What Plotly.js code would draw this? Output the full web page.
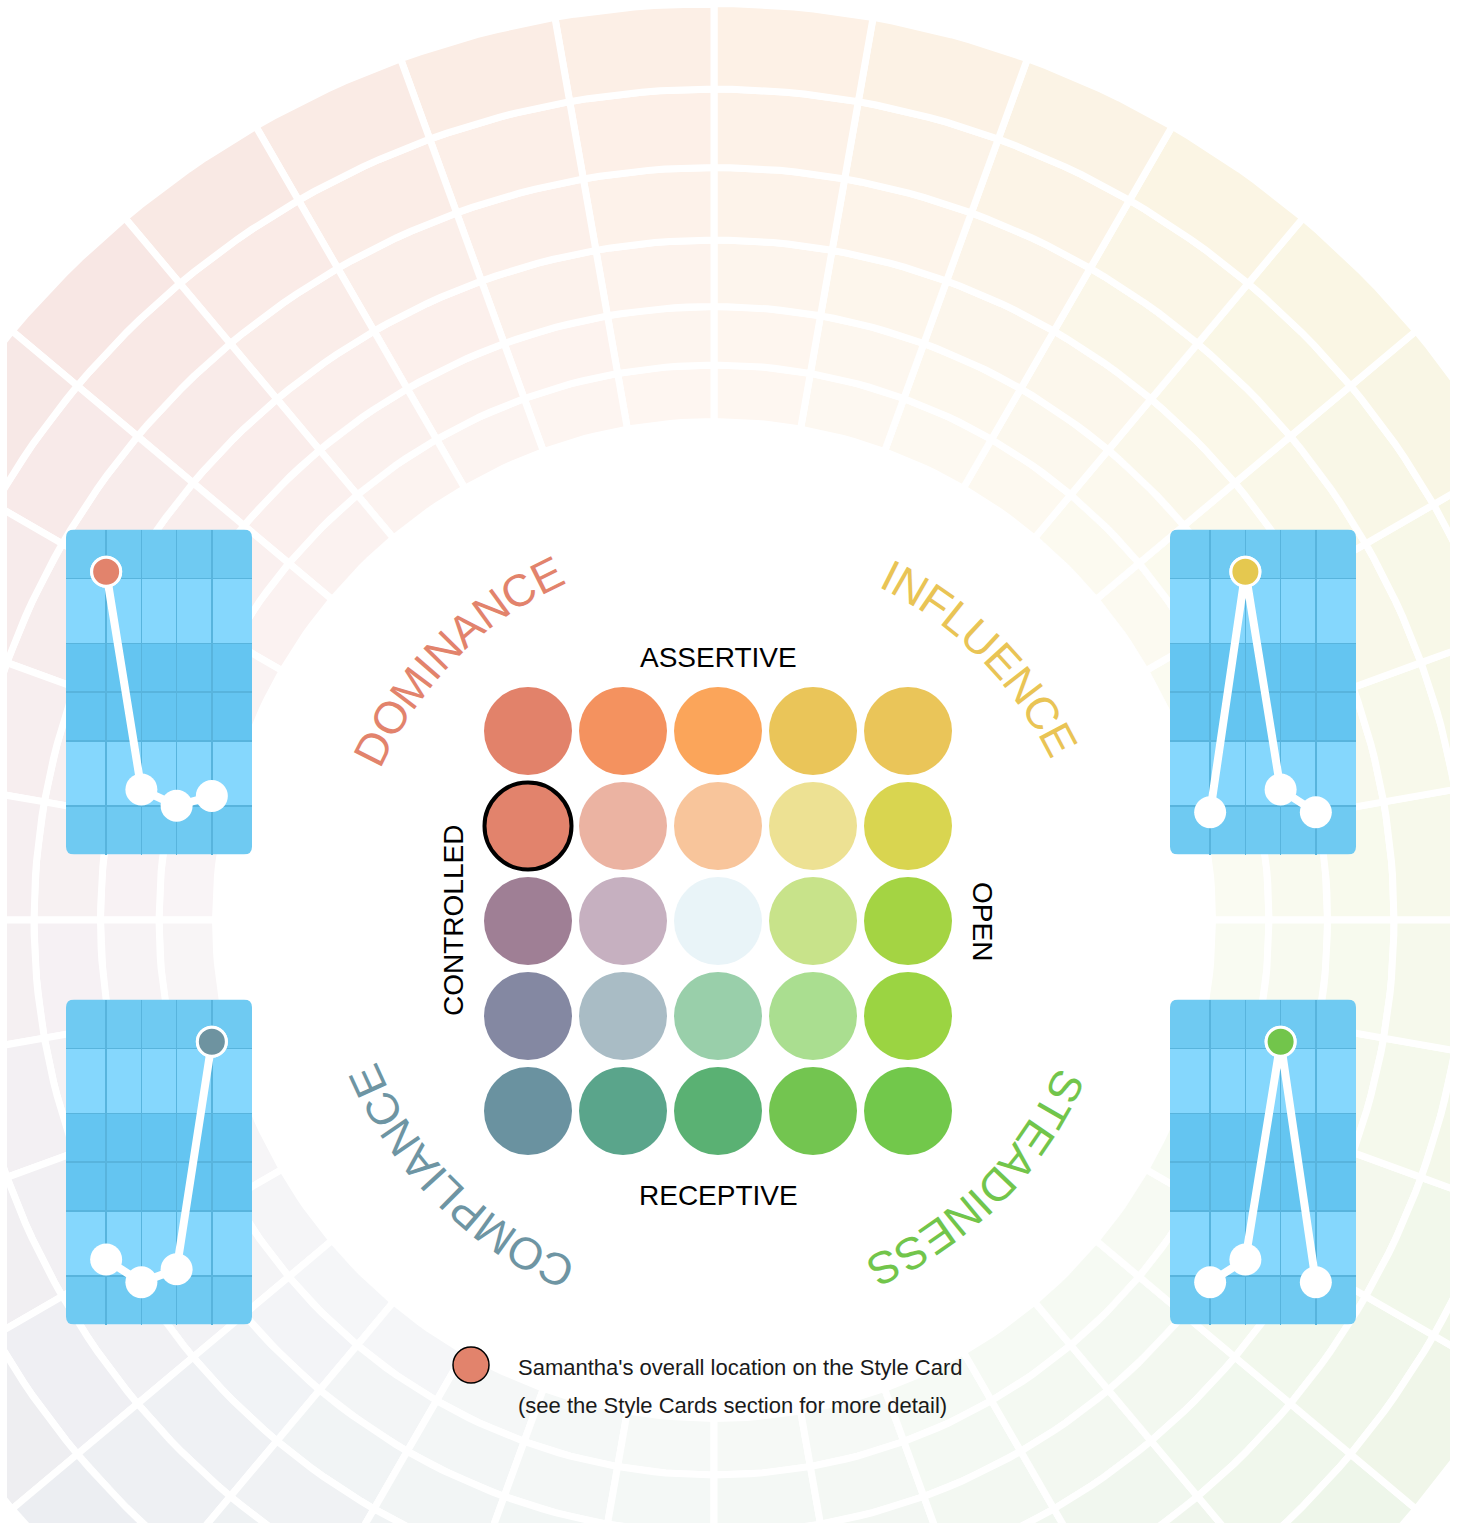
<!DOCTYPE html>
<html><head><meta charset="utf-8">
<script src="https://cdn.plot.ly/plotly-3.0.1.min.js"></script>
<style>html,body{margin:0;padding:0;background:#fff}#chart{width:1462px;height:1528px}</style>
</head><body><div id="chart"></div>
<script>
// ================= DATA =================
const gridColumns = [1, 2, 3, 4, 5];            // Controlled -> Open
const gridRows = [1, 2, 3, 4, 5];               // Assertive -> Receptive
const gridColors = [
  ['#e2826a', '#f4925f', '#fba55a', '#eac559', '#eac559'],
  ['#e2836c', '#ebb3a2', '#f8c59b', '#ede193', '#d9d550'],
  ['#9f7f95', '#c6b0c0', '#e9f4f8', '#c8e38a', '#a4d443'],
  ['#8488a2', '#a9bcc5', '#99cfaa', '#aade90', '#9bd442'],
  ['#6a92a0', '#5aa58b', '#5ab173', '#73c550', '#72c84b']
];
const selectedRow = 2;
const selectedCol = 1;

const styleFactors = ['D', 'I', 'S', 'C'];
const cardDominance = [87, 20, 15, 18];
const cardInfluence = [13, 87, 20, 13];
const cardSteadiness = [13, 20, 87, 13];
const cardCompliance = [20, 13, 17, 87];

const quadrantLabels = ['DOMINANCE', 'INFLUENCE', 'STEADINESS', 'COMPLIANCE'];
const axisLabels = ['ASSERTIVE', 'RECEPTIVE', 'CONTROLLED', 'OPEN'];
const legendLines = ["Samantha's overall location on the Style Card",
                     "(see the Style Cards section for more detail)"];
const cardBandEdges = [0, 15, 35, 65, 85, 100];

// ================= STYLE / LAYOUT CONSTANTS =================
const FONT = 'Liberation Sans, Arial, Helvetica, sans-serif';
const quadrantColors = ['#e2836c', '#e9c455', '#72c54b', '#6e95a3'];
const quadrantAngles = [135, 45, -45, 225];
const factorColors = ['#e2836c', '#e5c84f', '#72c54b', '#6e93a0'];
const W = 1462, H = 1528;
const M = {l: 7, r: 12, t: 7, b: 5};
const PW = W - M.l - M.r, PH = H - M.t - M.b;
const wheel = {cx: 714, cy: 920, radii: [498.5, 555, 613.5, 680, 752.5, 831, 916.5], sectors: 36};
const wheelTints = [ // outer-ring tints at math angles 0,45,...,315
  [245, 248, 231], [250, 246, 228], [253, 240, 230], [248, 231, 228],
  [243, 236, 239], [236, 238, 242], [238, 244, 240], [238, 246, 234]
];
const bandColors = ['#6fcaf2', '#85d7fd', '#64c5f1', '#85d7fd', '#6fcaf2'];

function dom(px0, px1) { return [(px0 - M.l) / PW, (px1 - M.l) / PW]; }
function domY(py0, py1) { return [(H - M.b - py1) / PH, (H - M.b - py0) / PH]; }

const traces = [];
const shapes = [];
const annotations = [];

// ---------- background wheel ----------
function tintAt(angDeg, ringIdx) {
  let a = ((angDeg % 360) + 360) % 360;
  const i0 = Math.floor(a / 45) % 8, i1 = (i0 + 1) % 8, t = (a - i0 * 45) / 45;
  const c = [0, 1, 2].map(k => wheelTints[i0][k] * (1 - t) + wheelTints[i1][k] * t);
  const f = 0.55 + 0.45 * (ringIdx / (wheel.radii.length - 2));
  return 'rgb(' + c.map(v => Math.round(255 - (255 - v) * f)).join(',') + ')';
}
const step = 360 / wheel.sectors;
for (let k = 0; k < wheel.radii.length - 1; k++) {
  const r0 = wheel.radii[k], r1 = wheel.radii[k + 1];
  for (let j = 0; j < wheel.sectors; j++) {
    const a0 = j * step, a1 = (j + 1) * step;
    const xs = [], ys = [];
    const n = 8;
    for (let s = 0; s <= n; s++) {
      const a = (a0 + (a1 - a0) * s / n) * Math.PI / 180;
      xs.push(wheel.cx + r1 * Math.cos(a)); ys.push(wheel.cy - r1 * Math.sin(a));
    }
    for (let s = n; s >= 0; s--) {
      const a = (a0 + (a1 - a0) * s / n) * Math.PI / 180;
      xs.push(wheel.cx + r0 * Math.cos(a)); ys.push(wheel.cy - r0 * Math.sin(a));
    }
    xs.push(xs[0]); ys.push(ys[0]);
    traces.push({type: 'scatter', mode: 'lines', x: xs, y: ys, fill: 'toself',
      fillcolor: tintAt((a0 + a1) / 2, k), line: {color: '#ffffff', width: 7},
      hoverinfo: 'skip', xaxis: 'x', yaxis: 'y', showlegend: false});
  }
}

// ---------- 5x5 style grid ----------
{
  const gx = [], gy = [], gc = [], gs = [], glw = [];
  gridRows.forEach((r, ri) => gridColumns.forEach((c, ci) => {
    gx.push(c); gy.push(r); gc.push(gridColors[ri][ci]);
    const sel = (r === selectedRow && c === selectedCol);
    gs.push(sel ? 87 : 88); glw.push(sel ? 4 : 0);
  }));
  traces.push({type: 'scatter', mode: 'markers', x: gx, y: gy, xaxis: 'x6', yaxis: 'y6',
    marker: {color: gc, size: gs, line: {color: '#000000', width: glw}, opacity: 1},
    hoverinfo: 'skip', cliponaxis: false, showlegend: false});
}

// ---------- style cards ----------
const cards = [
  {vals: cardDominance, hi: 0, ax: '2', x: [66, 252], y: [529.5, 854.5]},
  {vals: cardInfluence, hi: 1, ax: '3', x: [1170, 1356], y: [529.5, 854.5]},
  {vals: cardSteadiness, hi: 2, ax: '4', x: [1170, 1356], y: [999.5, 1324.5]},
  {vals: cardCompliance, hi: 3, ax: '5', x: [66, 252], y: [999.5, 1324.5]}
];
const cardX = styleFactors.map((_, i) => i + 1);
const cxr = [-0.14, 5.14];
cards.forEach(cd => {
  const xa = 'x' + cd.ax, ya = 'y' + cd.ax;
  // rounded card background
  const pxPerX = (cd.x[1] - cd.x[0]) / (cxr[1] - cxr[0]);
  const pxPerY = (cd.y[1] - cd.y[0]) / 100;
  const rx = 8 / pxPerX, ry = 8 / pxPerY;
  const x0 = cxr[0], x1 = cxr[1], y0 = 0, y1 = 100;
  shapes.push({type: 'path', xref: xa, yref: ya, layer: 'below',
    path: `M ${x0 + rx},${y0} L ${x1 - rx},${y0} Q ${x1},${y0} ${x1},${y0 + ry} L ${x1},${y1 - ry} Q ${x1},${y1} ${x1 - rx},${y1} L ${x0 + rx},${y1} Q ${x0},${y1} ${x0},${y1 - ry} L ${x0},${y0 + ry} Q ${x0},${y0} ${x0 + rx},${y0} Z`,
    fillcolor: bandColors[0], line: {width: 0}});
  for (let b = 1; b < cardBandEdges.length - 2; b++) {
    shapes.push({type: 'rect', xref: xa, yref: ya, layer: 'below',
      x0: x0, x1: x1, y0: cardBandEdges[b], y1: cardBandEdges[b + 1],
      fillcolor: bandColors[b], line: {width: 0}});
  }
  traces.push({type: 'scatter', mode: 'lines+markers', x: cardX, y: cd.vals, xaxis: xa, yaxis: ya,
    line: {color: '#ffffff', width: 8}, marker: {color: '#ffffff', size: 32},
    cliponaxis: false, hoverinfo: 'skip', showlegend: false});
  traces.push({type: 'scatter', mode: 'markers', x: [cardX[cd.hi]], y: [cd.vals[cd.hi]], xaxis: xa, yaxis: ya,
    marker: {color: factorColors[cd.hi], size: 29, line: {color: '#ffffff', width: 3}},
    cliponaxis: false, hoverinfo: 'skip', showlegend: false});
});

// ---------- legend marker ----------
traces.push({type: 'scatter', mode: 'markers', x: [471], y: [1365], xaxis: 'x', yaxis: 'y',
  marker: {color: gridColors[selectedRow - 1][selectedCol - 1], size: 36, line: {color: '#000', width: 1.5}},
  hoverinfo: 'skip', showlegend: false});

// ---------- curved quadrant labels ----------
const ctx = document.createElement('canvas').getContext('2d');
const QFS = 45;
ctx.font = QFS + 'px "Liberation Sans", Arial, sans-serif';
const TR = 385, TCX = 718, TCY = 920;
quadrantLabels.forEach((lab, qi) => {
  const chars = [...lab];
  const widths = chars.map(ch => ctx.measureText(ch).width * 1.02);
  const total = widths.reduce((a, b) => a + b, 0);
  let s = -total / 2;
  chars.forEach((ch, i) => {
    const mid = s + widths[i] / 2; s += widths[i];
    const ang = quadrantAngles[qi] - (mid / TR) * 180 / Math.PI;
    const ar = ang * Math.PI / 180;
    let ta = 90 - ang; ta = ((ta + 180) % 360 + 360) % 360 - 180;
    annotations.push({xref: 'x', yref: 'y', x: TCX + TR * Math.cos(ar), y: TCY - TR * Math.sin(ar),
      text: ch, showarrow: false, textangle: ta, xanchor: 'center', yanchor: 'middle',
      font: {family: FONT, size: QFS, color: quadrantColors[qi]}});
  });
});

// ---------- axis labels ----------
const axisLabelPos = [[718, 657, 0], [718, 1195, 0], [453, 921, -90], [983, 921, 90]];
axisLabels.forEach((t, i) => annotations.push({xref: 'x', yref: 'y', x: axisLabelPos[i][0], y: axisLabelPos[i][1],
  text: t, showarrow: false, textangle: axisLabelPos[i][2], xanchor: 'center', yanchor: 'middle',
  font: {family: FONT, size: 28, color: '#000000'}}));

// ---------- legend text ----------
legendLines.forEach((t, i) => annotations.push({xref: 'x', yref: 'y', x: 516, y: 1367 + 38 * i,
  text: t, showarrow: false, xanchor: 'left', yanchor: 'middle',
  font: {family: FONT, size: 22, color: '#1a1a1a'}}));

// ================= LAYOUT =================
const hidden = {visible: false, showgrid: false, zeroline: false, fixedrange: true};
const cardAxisX = (d, anchor) => ({domain: d, anchor: anchor, range: cxr, tickvals: cardX, ticktext: styleFactors,
  showticklabels: false, ticks: '', showgrid: true, gridcolor: '#58b4dd', gridwidth: 1.5,
  zeroline: false, showline: false, fixedrange: true});
const cardAxisY = (d, anchor) => ({domain: d, anchor: anchor, range: [0, 100], tickvals: cardBandEdges.slice(1, -1).concat([50]),
  showticklabels: false, ticks: '', showgrid: true, gridcolor: '#58b4dd', gridwidth: 1.5,
  zeroline: false, showline: false, fixedrange: true});

const layout = {
  width: W, height: H, margin: M,
  paper_bgcolor: '#ffffff', plot_bgcolor: 'rgba(0,0,0,0)',
  showlegend: false,
  xaxis: Object.assign({}, hidden, {range: [M.l, W - M.r], domain: [0, 1]}),
  yaxis: Object.assign({}, hidden, {range: [H - M.b, M.t], domain: [0, 1]}),
  xaxis6: Object.assign({}, hidden, {range: [0.5, 5.5], domain: dom(480.5, 955.5), anchor: 'y6'}),
  yaxis6: Object.assign({}, hidden, {range: [5.5, 0.5], domain: domY(683.5, 1158.5), anchor: 'x6'}),
  shapes: shapes,
  annotations: annotations
};
cards.forEach(cd => {
  layout['xaxis' + cd.ax] = cardAxisX(dom(cd.x[0], cd.x[1]), 'y' + cd.ax);
  layout['yaxis' + cd.ax] = cardAxisY(domY(cd.y[0], cd.y[1]), 'x' + cd.ax);
});

Plotly.newPlot('chart', traces, layout, {staticPlot: true, displayModeBar: false});
</script></body></html>
